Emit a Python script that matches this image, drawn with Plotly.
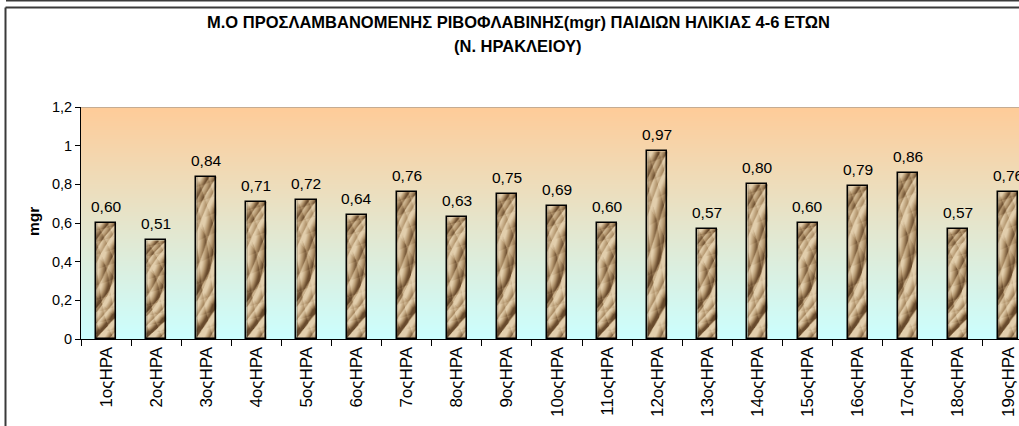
import base64
import struct
import zlib

import numpy as np
import plotly.graph_objects as go

# ---- data -------------------------------------------------------------
categories = [f"{i}οςΗΡΑ" for i in range(1, 20)]
riboflavin_mg = [0.60, 0.51, 0.84, 0.71, 0.72, 0.64, 0.76, 0.63, 0.75, 0.69,
                 0.60, 0.97, 0.57, 0.80, 0.60, 0.79, 0.86, 0.57, 0.76]
y_ticks = [0, 0.2, 0.4, 0.6, 0.8, 1.0, 1.2]
y_tick_text = ["0", "0,2", "0,4", "0,6", "0,8", "1", "1,2"]

title_line1 = "Μ.Ο ΠΡΟΣΛΑΜΒΑΝΟΜΕΝΗΣ ΡΙΒΟΦΛΑΒΙΝΗΣ(mgr) ΠΑΙΔΙΩΝ ΗΛΙΚΙΑΣ 4-6 ΕΤΩΝ"
title_line2 = "(Ν. ΗΡΑΚΛΕΙΟΥ)"
y_title = "mgr"

# ---- geometry ---------------------------------------------------------
W, H = 1019, 426
ML, MR, MT, MB = 81, 0, 107, 87
PW, PH = W - ML - MR, H - MT - MB
FONT = "Liberation Sans, Arial, sans-serif"


def px_x(px):
    return (px - ML) / PW


def px_y(py):
    return (H - MB - py) / PH


# ---- tiny PNG writer for the fills -----------------------------------
def png_data_uri(arr):
    arr = np.clip(arr, 0, 255).astype(np.uint8)
    h, w, _ = arr.shape
    raw = b"".join(b"\x00" + arr[r].tobytes() for r in range(h))

    def chunk(tag, data):
        c = tag + data
        return struct.pack(">I", len(data)) + c + struct.pack(">I", zlib.crc32(c) & 0xFFFFFFFF)

    png = b"\x89PNG\r\n\x1a\n"
    png += chunk(b"IHDR", struct.pack(">IIBBBBB", w, h, 8, 2, 0, 0, 0))
    png += chunk(b"IDAT", zlib.compress(raw, 9))
    png += chunk(b"IEND", b"")
    return "data:image/png;base64," + base64.b64encode(png).decode()


# vertical gradient: peach at the top, pale cyan at the bottom
t = np.linspace(0, 1, PH)[:, None, None]
top_c = np.array([255, 204, 153], dtype=float)
bot_c = np.array([204, 255, 255], dtype=float)
grad = top_c * (1 - t) + bot_c * t
grad = np.repeat(grad, 2, axis=1)
gradient_uri = png_data_uri(grad)

# crumpled sandy-paper texture for the bar fill (embossed height field)
tw, th = 24, 220
yy, xx = np.mgrid[0:th, 0:tw].astype(float)
waves = [  # (amplitude, kx, ky, phase)
    (1.00, 0.11, 0.040, 0.3),
    (0.70, -0.09, 0.060, 1.7),
    (0.45, 0.20, 0.085, 2.9),
    (0.30, -0.25, 0.050, 0.8),
    (0.20, 0.06, 0.130, 4.1),
]


def height(x, y):
    h = np.zeros_like(x)
    for a, kx, ky, ph in waves:
        h += a * np.abs(np.sin(kx * x + ky * y + ph + 0.9 * np.sin(0.03 * y + 3 * kx)))
    return h


hf = height(xx, yy)
relief = hf - height(xx - 1.0, yy - 1.0)
s = np.clip(0.62 + 2.2 * relief + 0.10 * (hf - hf.mean()), 0, 1)[..., None]
dark = np.array([104, 74, 44], dtype=float)
midc = np.array([178, 148, 108], dtype=float)
lite = np.array([226, 206, 172], dtype=float)
tex = np.where(s < 0.5, dark + (midc - dark) * (s / 0.5), midc + (lite - midc) * ((s - 0.5) / 0.5))
edge = np.minimum(xx, tw - 1 - xx)[..., None]
tex = tex * np.where(edge < 2, 0.78 + 0.1 * edge, 1.0)
texture_uri = png_data_uri(tex)

# ---- figure -----------------------------------------------------------
positions = np.arange(len(categories))
bar_width = 0.4

fig = go.Figure()
fig.add_trace(go.Bar(
    x=positions,
    y=riboflavin_mg,
    width=bar_width,
    marker=dict(color="rgba(0,0,0,0)", line=dict(color="#000000", width=1.5)),
    hoverinfo="skip",
    showlegend=False,
))

images = [dict(
    source=gradient_uri, xref="paper", yref="paper", x=0, y=1,
    sizex=1, sizey=1, xanchor="left", yanchor="top",
    sizing="stretch", layer="below",
)]
for pos, val in zip(positions, riboflavin_mg):
    images.append(dict(
        source=texture_uri, xref="x", yref="y",
        x=pos - bar_width / 2, y=val, sizex=bar_width, sizey=val,
        xanchor="left", yanchor="top", sizing="stretch", layer="below",
    ))

annotations = []
for pos, val in zip(positions, riboflavin_mg):
    annotations.append(dict(
        x=pos, y=val, xref="x", yref="y",
        text=f"{val:.2f}".replace(".", ","),
        showarrow=False, yanchor="bottom", yshift=6,
        font=dict(family=FONT, size=15.5, color="#000000"),
    ))

annotations += [
    dict(text=f"<b>{title_line1}</b>", x=px_x(518), y=px_y(22), xref="paper", yref="paper",
         showarrow=False, xanchor="center", yanchor="middle",
         font=dict(family=FONT, size=16.5, color="#000000")),
    dict(text=f"<b>{title_line2}</b>", x=px_x(518), y=px_y(46), xref="paper", yref="paper",
         showarrow=False, xanchor="center", yanchor="middle",
         font=dict(family=FONT, size=16.5, color="#000000")),
    dict(text=f"<b>{y_title}</b>", x=px_x(33), y=px_y(222), xref="paper", yref="paper",
         showarrow=False, xanchor="center", yanchor="middle", textangle=-90,
         font=dict(family=FONT, size=15.5, color="#000000")),
]

frame = "#3a3a3a"
shapes = [
    # top edge of the plot area
    dict(type="line", xref="paper", yref="y", x0=0, x1=1, y0=1.2, y1=1.2,
         line=dict(color="#8c8c8c", width=1)),
    # outer chart frame
    dict(type="line", xref="paper", yref="paper", x0=px_x(5.5), x1=px_x(1030),
         y0=px_y(7.5), y1=px_y(7.5), line=dict(color=frame, width=2)),
    dict(type="line", xref="paper", yref="paper", x0=px_x(5.5), x1=px_x(5.5),
         y0=px_y(7.5), y1=px_y(440), line=dict(color=frame, width=2)),
    dict(type="line", xref="paper", yref="paper", x0=px_x(6), x1=px_x(1030),
         y0=px_y(0.5), y1=px_y(0.5), line=dict(color=frame, width=2)),
]

fig.update_layout(
    width=W, height=H,
    margin=dict(l=ML, r=MR, t=MT, b=MB, pad=0),
    paper_bgcolor="#ffffff",
    plot_bgcolor="rgba(0,0,0,0)",
    font=dict(family=FONT, size=14, color="#000000"),
    bargap=0,
    images=images,
    annotations=annotations,
    shapes=shapes,
    xaxis=dict(
        range=[-0.5, 18.22],
        tickmode="array", tickvals=positions, ticktext=categories,
        tickangle=-90, ticks="", ticklen=0,
        tickfont=dict(family=FONT, size=17, color="#000000"),
        showline=True, linecolor="#000000", linewidth=1,
        showgrid=False, zeroline=False,
        minor=dict(tickvals=np.arange(len(categories) + 1) - 0.5, ticks="outside",
                   ticklen=6, tickcolor="#000000", tickwidth=1, showgrid=False),
        fixedrange=True,
    ),
    yaxis=dict(
        range=[0, 1.2],
        tickmode="array", tickvals=y_ticks, ticktext=y_tick_text,
        ticks="outside", ticklen=5, tickcolor="#000000", tickwidth=1,
        tickfont=dict(family=FONT, size=14.5, color="#000000"),
        showline=True, linecolor="#000000", linewidth=1,
        showgrid=False, zeroline=False,
        fixedrange=True,
    ),
)

fig.write_html("out.html")
